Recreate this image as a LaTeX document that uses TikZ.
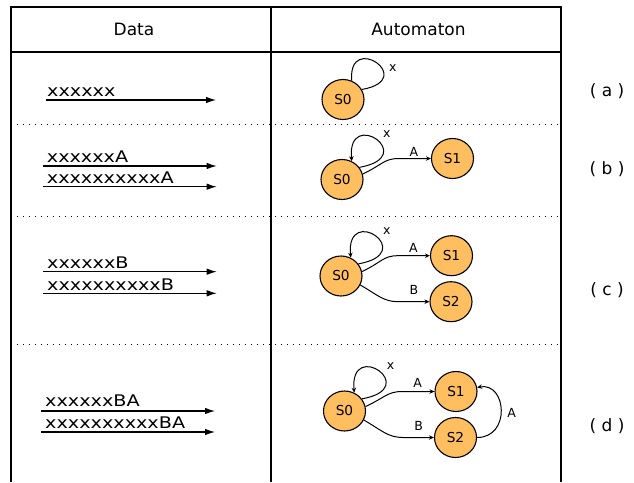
\documentclass[tikz,border=0pt]{standalone}
\usepackage{fontspec}
\setmainfont{DejaVu Sans}
\newfontfamily\datafont[FakeStretch=1.2]{DejaVu Sans}
\usetikzlibrary{arrows.meta,shapes.geometric,calc}
\definecolor{stfill}{RGB}{255,190,95}
\begin{document}
\begin{tikzpicture}[x=1pt,y=-1pt,
  tbl/.style={line width=1.1pt},
  sepline/.style={line width=1pt, dash pattern=on 1pt off 5pt},
  st/.style={ellipse, draw, fill=stfill, line width=1.1pt, minimum width=42pt, minimum height=40pt, inner sep=0pt, font=\fontsize{13.7}{16}\selectfont},
  tr/.style={-{Stealth[length=5pt,width=4.5pt]}, line width=1pt},
  plainloop/.style={line width=1pt},
  dataarrow/.style={-{Latex[length=10pt,width=6.5pt]}, line width=1.1pt},
  elab/.style={font=\fontsize{12.5}{14}\selectfont, inner sep=0pt},
  datatext/.style={font=\datafont\fontsize{16}{18}\selectfont, anchor=base west, inner sep=0pt},
  head/.style={font=\fontsize{17}{20}\selectfont, anchor=base, inner sep=0pt},
  rowlab/.style={font=\fontsize{17}{20}\selectfont, anchor=base, inner sep=0pt}]
\useasboundingbox (0,0) rectangle (634,482);
% table
\draw[tbl] (11,482) -- (11,7) -- (561,7) -- (561,482);
\draw[tbl] (11,52) -- (561,52);
\draw[tbl] (271,7) -- (271,482);
\draw[sepline] (11,124) -- (561,124);
\draw[sepline] (11,216) -- (561,216);
\draw[sepline] (11,344) -- (561,344);
\node[head] (hdata) at (134,35.7) {Data};
\node[head] (hauto) at (418.5,35.7) {Automaton};
% row labels
\node[rowlab] (la) at (607,96) {( a )};
\node[rowlab] (lb) at (607,174) {( b )};
\node[rowlab] (lc) at (607,295) {( c )};
\node[rowlab] (ld) at (607,431) {( d )};
% data rows
\node[datatext] (ta1) at (47,96.5) {xxxxxx};
\coordinate (a1s) at (46,100); \coordinate (a1e) at (216,100);
\draw[dataarrow] (a1s) -- (a1e);
\node[datatext] (tb1) at (46.7,162.3) {xxxxxxA};
\node[datatext] (tb2) at (46.7,183.3) {xxxxxxxxxxA};
\coordinate (b1s) at (42.7,166); \coordinate (b1e) at (216.7,166);
\coordinate (b2s) at (42.7,186.7); \coordinate (b2e) at (216.7,186.7);
\draw[dataarrow] (b1s) -- (b1e);
\draw[dataarrow] (b2s) -- (b2e);
\node[datatext] (tc1) at (47,268.3) {xxxxxxB};
\node[datatext] (tc2) at (47,290.3) {xxxxxxxxxxB};
\coordinate (c1s) at (43,271.7); \coordinate (c1e) at (216.7,271.7);
\coordinate (c2s) at (43,293.3); \coordinate (c2e) at (216.7,293.3);
\draw[dataarrow] (c1s) -- (c1e);
\draw[dataarrow] (c2s) -- (c2e);
\node[datatext] (td1) at (45,406.7) {xxxxxxBA};
\node[datatext] (td2) at (45,428.3) {xxxxxxxxxxBA};
\coordinate (d1s) at (41,411); \coordinate (d1e) at (215,411);
\coordinate (d2s) at (41,432); \coordinate (d2e) at (215,432);
\draw[dataarrow] (d1s) -- (d1e);
\draw[dataarrow] (d2s) -- (d2e);
% row a automaton
\node[st] (s0a) at (343,99.5) {S0};
\draw[plainloop] (s0a.65) .. controls +(95:50pt) and +(10:58pt) .. (s0a.28);
\node[elab] (xa) at (392.7,68) {x};
% row b
\node[st] (s0b) at (342,179.5) {S0};
\node[st] (s1b) at (452.5,158.5) {S1};
\draw[tr] (s0b.35) .. controls +(10:62pt) and +(95:55pt) .. (s0b.62);
\node[elab] (xb) at (386.7,134) {x};
\draw[tr] (s0b.15) .. controls +(25:22pt) and +(180:15pt) .. ($(s1b.west)+(-32,0)$) -- (s1b.west);
\node[elab] (ab) at (414,151.7) {A};
% row c
\node[st] (s0c) at (341,276) {S0};
\node[st] (s1c) at (451.5,255.7) {S1};
\node[st] (s2c) at (451,301.7) {S2};
\draw[tr] (s0c.35) .. controls +(10:62pt) and +(95:55pt) .. (s0c.62);
\node[elab] (xc) at (386.7,231) {x};
\draw[tr] (s0c.12) .. controls +(25:22pt) and +(180:15pt) .. ($(s1c.west)+(-32,0)$) -- (s1c.west);
\node[elab] (ac) at (413.3,248.3) {A};
\draw[tr] (s0c.-25) .. controls +(-30:20pt) and +(180:15pt) .. ($(s2c.west)+(-31,0)$) -- (s2c.west);
\node[elab] (bc) at (414,290) {B};
% row d
\node[st] (s0d) at (344.5,411) {S0};
\node[st] (s1d) at (456,391.5) {S1};
\node[st] (s2d) at (455.5,437.5) {S2};
\draw[tr] (s0d.35) .. controls +(10:62pt) and +(95:55pt) .. (s0d.62);
\node[elab] (xd) at (390.6,366) {x};
\draw[tr] (s0d.12) .. controls +(25:22pt) and +(180:15pt) .. ($(s1d.west)+(-32,0)$) -- (s1d.west);
\node[elab] (ad) at (417.6,383) {A};
\draw[tr] (s0d.-25) .. controls +(-30:20pt) and +(180:15pt) .. ($(s2d.west)+(-31,0)$) -- (s2d.west);
\node[elab] (bd) at (418.6,425.5) {B};
\draw[tr] (s2d.east) .. controls +(0:34pt) and +(10:30pt) .. (s1d.11);
\node[elab] (ad2) at (511.6,412.6) {A};
\end{tikzpicture}
\end{document}
